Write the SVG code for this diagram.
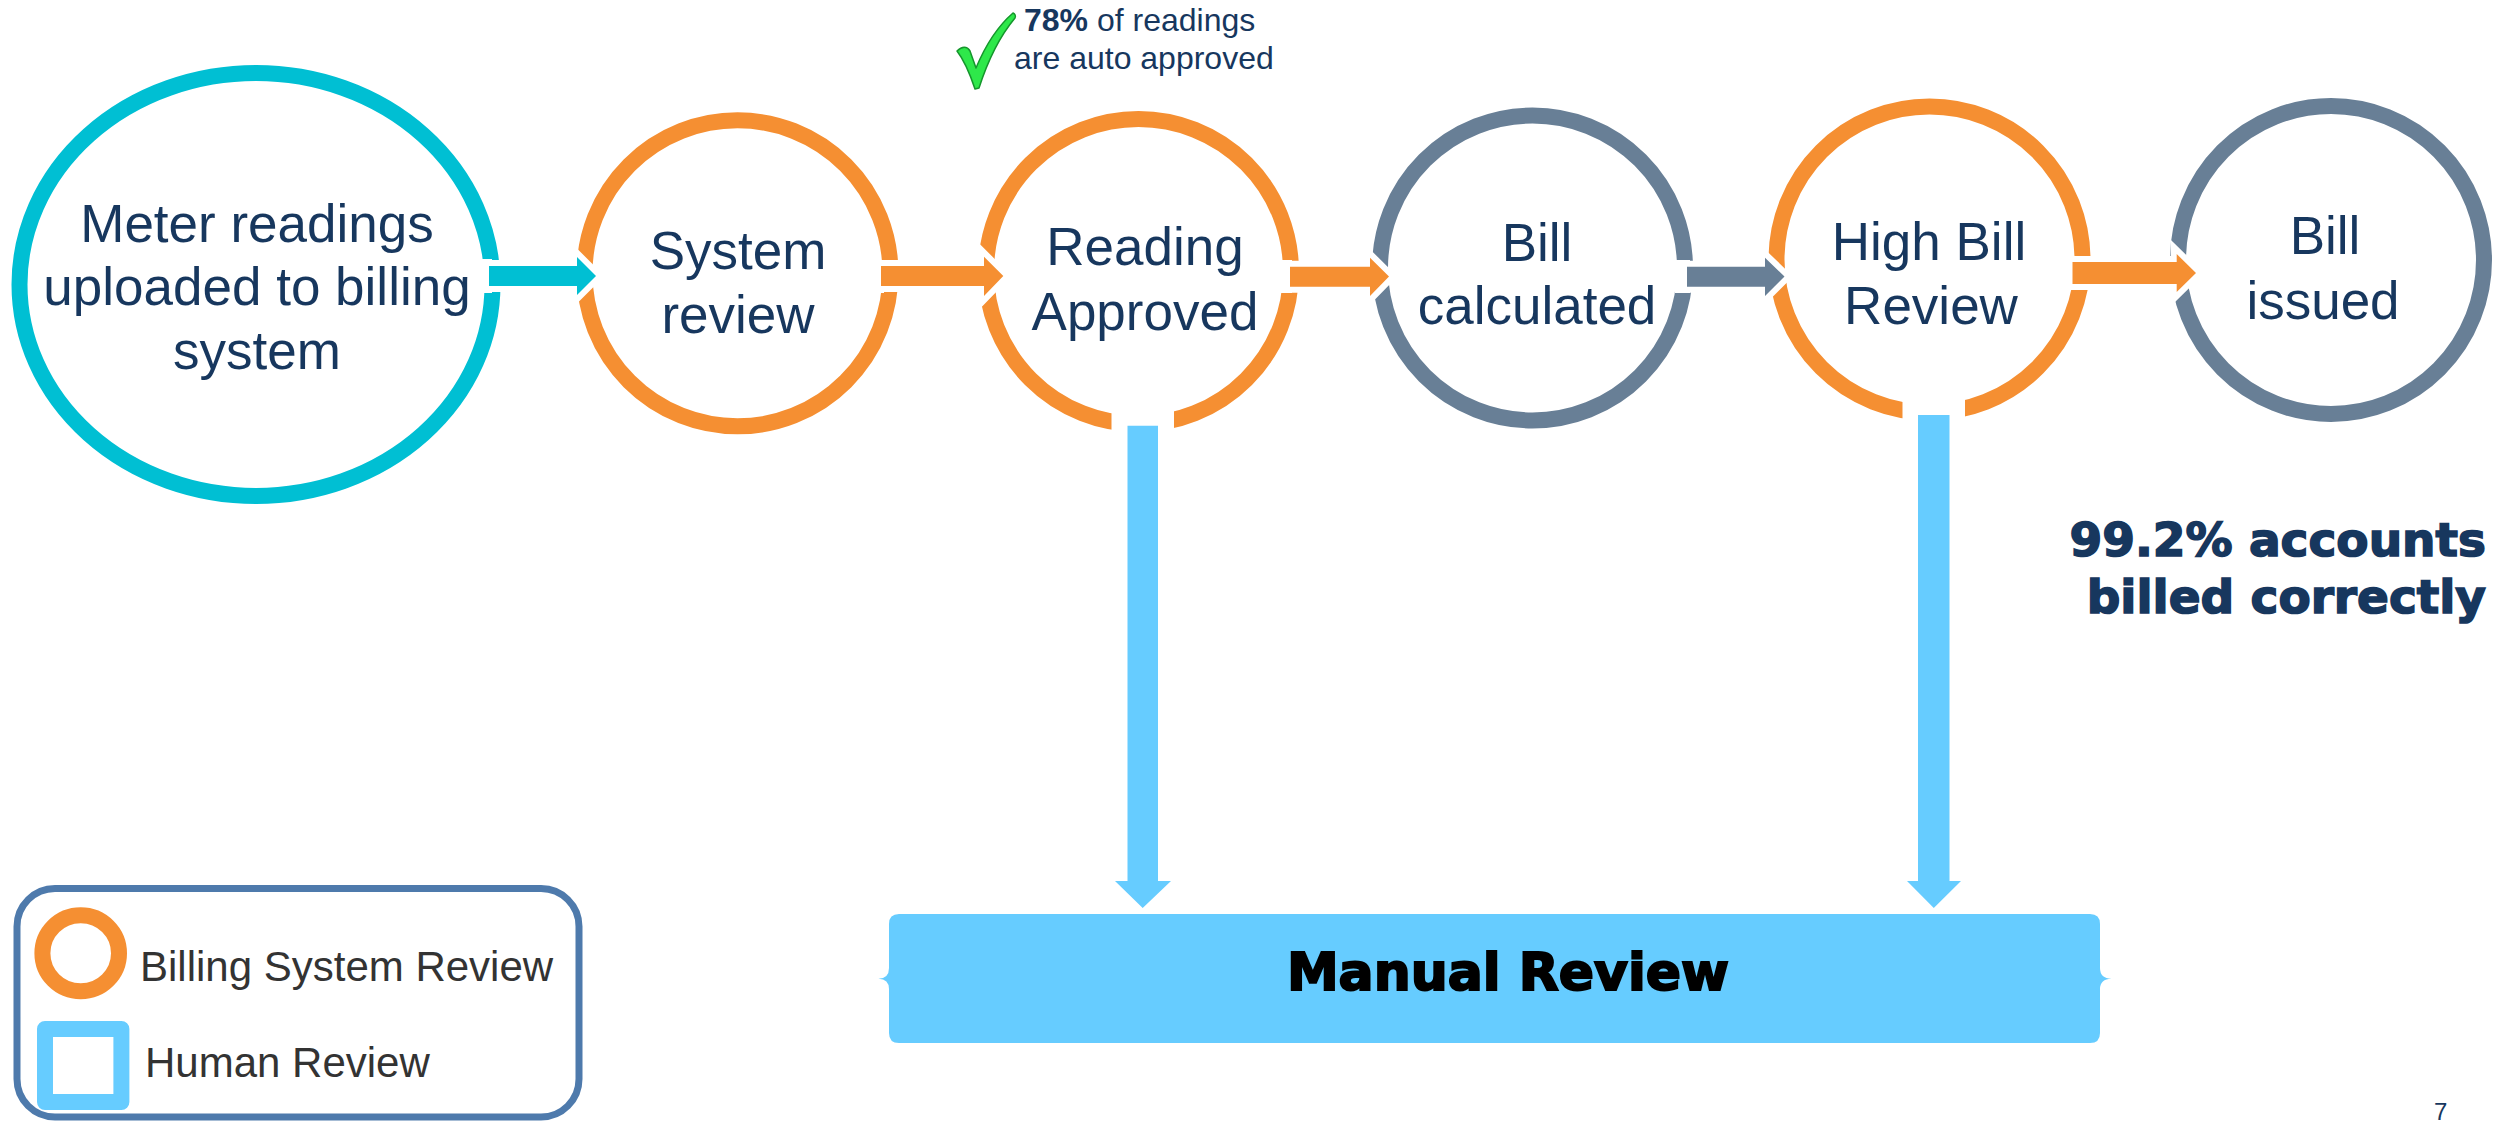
<svg xmlns="http://www.w3.org/2000/svg" width="2501" height="1122" viewBox="0 0 2501 1122">
  <style>
    .ring { fill: #ffffff; stroke-width: 16; }
    .cyan { stroke: #00BFD3; }
    .orange { stroke: #F58F32; }
    .slate { stroke: #687F96; }
    .label { font-family: "Liberation Sans", Arial, sans-serif; font-size: 53px; fill: #17375E; text-anchor: middle; }
    .arrow { stroke: #ffffff; stroke-width: 12; stroke-linejoin: miter; paint-order: stroke; }
    .cut { fill: #ffffff; }
    .stat { font-family: "DejaVu Sans", sans-serif; font-weight: bold; font-size: 47px; fill: #17375E; stroke: #17375E; stroke-width: 1.6; text-anchor: end; }
    .note { font-family: "Liberation Sans", Arial, sans-serif; font-size: 32px; fill: #17375E; }
    .legend-text { font-family: "Liberation Sans", Arial, sans-serif; font-size: 42px; fill: #333333; }
  </style>

  <rect width="2501" height="1122" fill="#ffffff"/>

  <!-- process steps -->
  <g id="node-upload">
    <ellipse class="ring cyan" cx="256" cy="284.5" rx="236.5" ry="211.5"/>
    <text class="label" x="257" y="242">Meter readings</text>
    <text class="label" x="257" y="305">uploaded to billing</text>
    <text class="label" x="257" y="369">system</text>
  </g>

  <g id="node-system-review">
    <circle class="ring orange" cx="737.5" cy="273.3" r="153"/>
    <text class="label" x="738" y="269">System</text>
    <text class="label" x="738" y="333">review</text>
  </g>

  <g id="node-reading-approved">
    <circle class="ring orange" cx="1138.5" cy="271.5" r="152.5"/>
    <text class="label" x="1145" y="265">Reading</text>
    <text class="label" x="1145" y="330">Approved</text>
  </g>

  <g id="node-bill-calculated">
    <circle class="ring slate" cx="1532.5" cy="268" r="152.5"/>
    <text class="label" x="1537" y="261">Bill</text>
    <text class="label" x="1537" y="324">calculated</text>
  </g>

  <g id="node-high-bill-review">
    <circle class="ring orange" cx="1929.5" cy="259.5" r="153"/>
    <text class="label" x="1929" y="260">High Bill</text>
    <text class="label" x="1931" y="324">Review</text>
  </g>

  <g id="node-bill-issued">
    <ellipse class="ring slate" cx="2331" cy="260" rx="153" ry="154"/>
    <text class="label" x="2325" y="254">Bill</text>
    <text class="label" x="2323" y="319">issued</text>
  </g>

  <g id="node-manual-review">
    <path fill="#66CCFF" d="M 899 914 H 2090 Q 2100 914 2100 924 V 968 Q 2100 978.5 2111.5 978.7 Q 2100 979 2100 989 V 1033 Q 2100 1043 2090 1043 H 899 Q 889 1043 889 1033 V 989 Q 889 979 878.5 978.7 Q 889 978.5 889 968 V 924 Q 889 914 899 914 Z"/>
    <text x="1508" y="990" font-family="DejaVu Sans, sans-serif" font-weight="bold" font-size="52" fill="#000000" stroke="#000000" stroke-width="2" text-anchor="middle">Manual Review</text>
  </g>

  <!-- connectors -->
  <g id="connectors">
    <!-- breaks in the rings where arrows leave -->
    <rect class="cut" x="478" y="259" width="14" height="34"/>
    <rect class="cut" x="876" y="260" width="8" height="33"/>
    <rect class="cut" x="1280" y="260" width="12" height="33"/>
    <rect class="cut" x="1675" y="260" width="15" height="33"/>
    <rect class="cut" x="1111.5" y="405" width="62.5" height="35"/>
    <rect class="cut" x="1902.5" y="390" width="62.5" height="35"/>

    <polygon class="arrow" fill="#00BFD3" points="489,266 577,266 577,257 596,276 577,295 577,286 489,286"/>
    <polygon class="arrow" fill="#F58F32" points="881,266 984,266 984,256.7 1003.3,276 984,296 984,286 881,286"/>
    <polygon class="arrow" fill="#F58F32" points="1290,266.7 1370,266.7 1370,257.7 1389,276.5 1370,296 1370,286.7 1290,286.7"/>
    <polygon class="arrow" fill="#687F96" points="1687,266.7 1765,266.7 1765,257.7 1784.5,276.5 1765,296 1765,286.7 1687,286.7"/>
    <polygon class="arrow" fill="#F58F32" points="2072.5,262 2176.7,262 2176.7,254 2196,273 2176.7,292 2176.7,284 2072.5,284"/>

    <polygon fill="#66CCFF" points="1127.5,425.7 1158,425.7 1158,881 1171,881 1142.7,908 1115,881 1127.5,881"/>
    <polygon fill="#66CCFF" points="1918,415 1949.5,415 1949.5,881 1961,881 1933.8,908 1907,881 1918,881"/>
  </g>

  <!-- auto-approval note -->
  <g id="note-auto-approved">
    <path fill="#2EE84A" stroke="#15962C" stroke-width="1.5" stroke-linejoin="round"
          d="M 957 51 C 962 46, 967 46, 970 51 L 976 68 C 986 44, 998 26, 1013 13 C 1015 14, 1016 16, 1015 18 C 1000 36, 988 60, 979 88 L 975 89 C 970 74, 964 60, 957 51 Z"/>
    <text class="note" x="1024" y="31"><tspan font-weight="bold">78%</tspan> of readings</text>
    <text class="note" x="1014" y="69">are auto approved</text>
  </g>

  <g id="note-billed-correctly">
    <text class="stat" x="2486" y="556">99.2% accounts</text>
    <text class="stat" x="2486" y="613">billed correctly</text>
  </g>

  <!-- legend -->
  <g id="legend">
    <rect x="17" y="888.5" width="562" height="228.5" rx="38" fill="#ffffff" stroke="#4E7AAC" stroke-width="7"/>
    <ellipse cx="80.7" cy="953.3" rx="38.3" ry="38" fill="none" stroke="#F58F32" stroke-width="16"/>
    <text class="legend-text" x="140" y="981">Billing System Review</text>
    <rect x="45" y="1029" width="76.4" height="73" fill="none" stroke="#66CCFF" stroke-width="16" stroke-linejoin="round"/>
    <text class="legend-text" x="145" y="1077">Human Review</text>
  </g>

  <text x="2434" y="1120" font-family="Liberation Sans, Arial, sans-serif" font-size="24" fill="#17375E">7</text>
</svg>
